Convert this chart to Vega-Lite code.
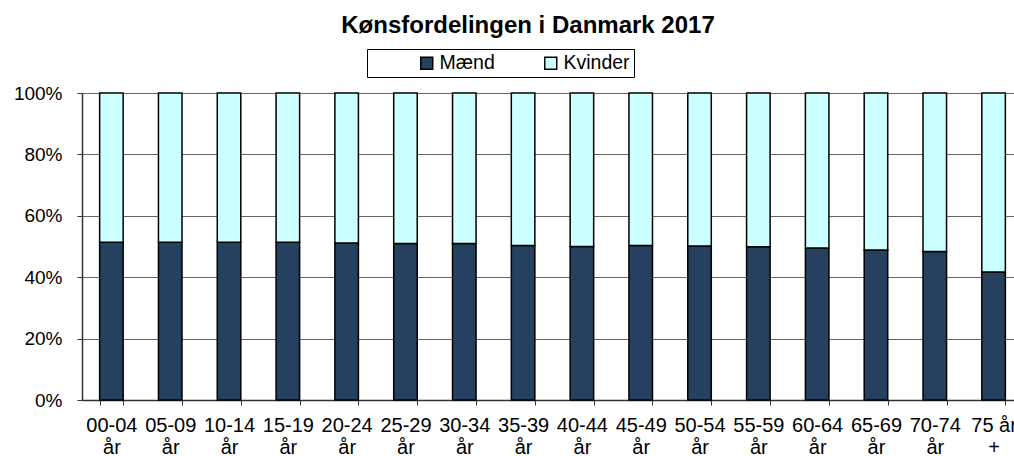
{
  "$schema": "https://vega.github.io/schema/vega-lite/v6.json",
  "width": 932,
  "height": 307,
  "autosize": {"type": "none"},
  "padding": {"left": 82, "top": 93, "right": 0, "bottom": 56},
  "background": "white",
  "title": {
    "text": "Kønsfordelingen i Danmark 2017",
    "font": "Liberation Sans",
    "fontSize": 24,
    "fontWeight": "bold",
    "color": "black",
    "anchor": "middle",
    "dx": -20,
    "offset": 11
  },
  "config": {
    "view": {"stroke": null},
    "font": "Liberation Sans"
  },
  "data": {
    "values": [
      {"group": "00-04 år", "sex": "Mænd", "share": 51.4},
      {"group": "00-04 år", "sex": "Kvinder", "share": 48.6},
      {"group": "05-09 år", "sex": "Mænd", "share": 51.4},
      {"group": "05-09 år", "sex": "Kvinder", "share": 48.6},
      {"group": "10-14 år", "sex": "Mænd", "share": 51.4},
      {"group": "10-14 år", "sex": "Kvinder", "share": 48.6},
      {"group": "15-19 år", "sex": "Mænd", "share": 51.4},
      {"group": "15-19 år", "sex": "Kvinder", "share": 48.6},
      {"group": "20-24 år", "sex": "Mænd", "share": 51.1},
      {"group": "20-24 år", "sex": "Kvinder", "share": 48.9},
      {"group": "25-29 år", "sex": "Mænd", "share": 51.0},
      {"group": "25-29 år", "sex": "Kvinder", "share": 49.0},
      {"group": "30-34 år", "sex": "Mænd", "share": 51.0},
      {"group": "30-34 år", "sex": "Kvinder", "share": 49.0},
      {"group": "35-39 år", "sex": "Mænd", "share": 50.3},
      {"group": "35-39 år", "sex": "Kvinder", "share": 49.7},
      {"group": "40-44 år", "sex": "Mænd", "share": 50.0},
      {"group": "40-44 år", "sex": "Kvinder", "share": 50.0},
      {"group": "45-49 år", "sex": "Mænd", "share": 50.3},
      {"group": "45-49 år", "sex": "Kvinder", "share": 49.7},
      {"group": "50-54 år", "sex": "Mænd", "share": 50.2},
      {"group": "50-54 år", "sex": "Kvinder", "share": 49.8},
      {"group": "55-59 år", "sex": "Mænd", "share": 49.9},
      {"group": "55-59 år", "sex": "Kvinder", "share": 50.1},
      {"group": "60-64 år", "sex": "Mænd", "share": 49.5},
      {"group": "60-64 år", "sex": "Kvinder", "share": 50.5},
      {"group": "65-69 år", "sex": "Mænd", "share": 48.9},
      {"group": "65-69 år", "sex": "Kvinder", "share": 51.1},
      {"group": "70-74 år", "sex": "Mænd", "share": 48.4},
      {"group": "70-74 år", "sex": "Kvinder", "share": 51.6},
      {"group": "75 år +", "sex": "Mænd", "share": 41.7},
      {"group": "75 år +", "sex": "Kvinder", "share": 58.3}
    ]
  },
  "mark": {"type": "bar", "stroke": "black", "strokeWidth": 1.5},
  "encoding": {
    "x": {
      "field": "group",
      "type": "nominal",
      "sort": null,
      "scale": {"range": [0, 941], "paddingInner": 0.6, "paddingOuter": 0.3},
      "axis": {
        "title": null,
        "labelAngle": 0,
        "labelFontSize": 20,
        "labelColor": "black",
        "labelLineHeight": 22,
        "labelPadding": 10,
        "labelExpr": "datum.label == '75 år +' ? ['75 år', '+'] : split(datum.label, ' ')",
        "tickBand": "extent",
        "tickSize": 5,
        "tickColor": "#333",
        "domainColor": "#333",
        "domainWidth": 1.5,
        "labelOverlap": false,
        "labelBound": false
      }
    },
    "y": {
      "field": "share",
      "type": "quantitative",
      "stack": "normalize",
      "scale": {"domain": [0, 1], "nice": false},
      "axis": {
        "title": null,
        "format": ".0%",
        "values": [0, 0.2, 0.4, 0.6, 0.8, 1],
        "labelFontSize": 19,
        "labelColor": "black",
        "labelPadding": 15,
        "tickSize": 5,
        "tickColor": "#333",
        "domainColor": "#333",
        "domainWidth": 1.5,
        "grid": true,
        "gridColor": "#666",
        "gridWidth": 1
      }
    },
    "color": {
      "field": "sex",
      "type": "nominal",
      "scale": {"domain": ["Mænd", "Kvinder"], "range": ["#26405F", "#CCFFFF"]},
      "legend": {
        "title": null,
        "orient": "none",
        "direction": "horizontal",
        "legendX": 285,
        "legendY": -44,
        "strokeColor": "black",
        "padding": 4,
        "symbolType": "square",
        "symbolSize": 144,
        "symbolStrokeColor": "black",
        "symbolStrokeWidth": 1.5,
        "symbolOffset": 46,
        "labelFontSize": 19.5,
        "labelColor": "black",
        "labelOffset": 3,
        "columnPadding": -4,
        "labelExpr": "datum.label == 'Kvinder' ? 'Kvinder\u2002\u2002\u2002\u2002' : datum.label"
      }
    },
    "order": {"field": "sex", "sort": "descending"}
  }
}
